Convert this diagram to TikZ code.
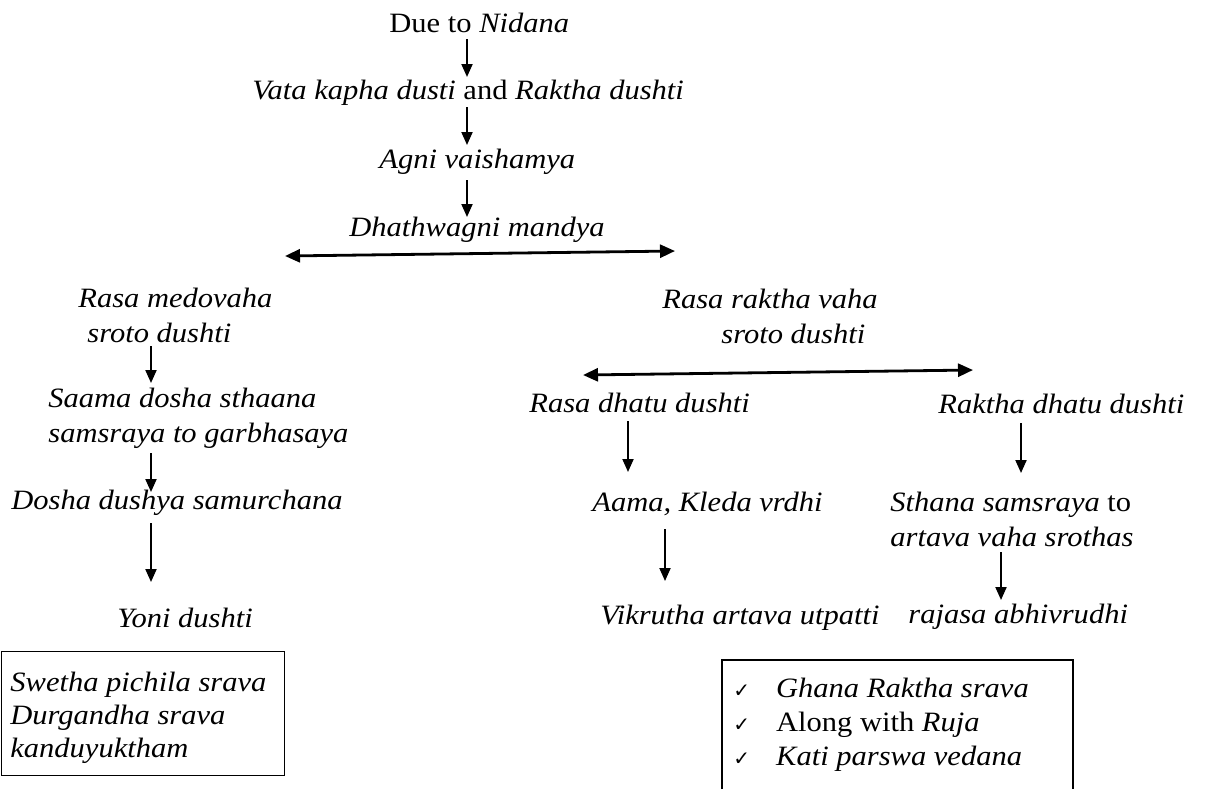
\documentclass[tikz,border=0pt]{standalone}
\usepackage{fontspec}
\setmainfont{Liberation Serif}
\newfontfamily\cam{Liberation Serif}[FakeStretch=1.09]
\newfontfamily\symf{DejaVu Sans}
\usetikzlibrary{arrows.meta}
\tikzset{
  txt/.style={inner sep=0pt, anchor=west, font={\cam\fontsize{14}{17.5}\selectfont}, align=left},
  boxtxt/.style={inner sep=0pt, anchor=west, font={\cam\fontsize{14}{16.5}\selectfont}, align=left},
  arr/.style={line width=1pt, -{Triangle[length=6.5pt,width=5.5pt]}},
  darr/.style={line width=1.4pt, {Triangle[length=7.5pt,width=6.5pt]}-{Triangle[length=7.5pt,width=6.5pt]}},
  boxline/.style={line width=0.7pt}
}
\newcommand{\chk}{{\symf\fontsize{10}{10}\selectfont ✓}\hspace{13pt}}
\begin{document}
\begin{tikzpicture}[x=0.5pt,y=-0.5pt]
\useasboundingbox (0,0) rectangle (1208,789);
% center column
\node[txt] (due) at (389,23) {Due to \textit{Nidana}};
\node[txt] (vata) at (252,93) {\textit{Vata kapha dusti} and \textit{Raktha dushti}};
\node[txt] (agni) at (379,162) {\textit{Agni vaishamya}};
\node[txt] (dhat) at (349,230) {\textit{Dhathwagni mandya}};
\coordinate (a1s) at (467,39);  \coordinate (a1e) at (467,77);
\coordinate (a2s) at (467,107); \coordinate (a2e) at (467,145);
\coordinate (a3s) at (467,180); \coordinate (a3e) at (467,217);
\draw[arr] (a1s) -- (a1e);
\draw[arr] (a2s) -- (a2e);
\draw[arr] (a3s) -- (a3e);
\coordinate (d1l) at (285,256); \coordinate (d1r) at (675,251);
\draw[darr] (d1l) -- (d1r);
% left column
\node[txt] (rmed) at (78,315) {\textit{Rasa medovaha}\\\hspace*{4.5pt}\textit{sroto dushti}};
\node[txt] (saama) at (48,418) {\textit{Saama dosha sthaana}\\\textit{samsraya to garbhasaya}};
\node[txt] (dosha) at (11,503) {\textit{Dosha dushya samurchana}};
\node[txt] (yoni) at (117,618) {\textit{Yoni dushti}};
\coordinate (l1s) at (151,346); \coordinate (l1e) at (151,383);
\coordinate (l2s) at (151,453); \coordinate (l2e) at (151,492);
\coordinate (l3s) at (151,523); \coordinate (l3e) at (151,582);
\draw[arr] (l1s) -- (l1e);
\draw[arr] (l2s) -- (l2e);
\draw[arr] (l3s) -- (l3e);
\node[draw, boxline, inner sep=0pt, anchor=north west, minimum width=141.5pt, minimum height=62pt] (lbox) at (1,651) {};
\node[boxtxt] (ltxt) at (10,718) {\textit{Swetha pichila srava}\\\textit{Durgandha srava}\\\textit{kanduyuktham}};
% right column
\node[txt] (rrak) at (662,316) {\textit{Rasa raktha vaha}\\\hspace*{29.5pt}\textit{sroto dushti}};
\coordinate (d2l) at (583,375); \coordinate (d2r) at (973,370);
\draw[darr] (d2l) -- (d2r);
\node[txt] (rasd) at (529,403) {\textit{Rasa dhatu dushti}};
\node[txt] (rakd) at (938,404) {\textit{Raktha dhatu dushti}};
\coordinate (r1s) at (628,421);  \coordinate (r1e) at (628,472);
\coordinate (r2s) at (1021,423); \coordinate (r2e) at (1021,473);
\draw[arr] (r1s) -- (r1e);
\draw[arr] (r2s) -- (r2e);
\node[txt] (aama) at (592,504) {\textit{Aama, Kleda vrdhi}};
\node[txt] (sthana) at (890,519) {\textit{Sthana samsraya} to\\\textit{artava vaha srothas}};
\coordinate (r3s) at (665,529);  \coordinate (r3e) at (665,581);
\coordinate (r4s) at (1001,552); \coordinate (r4e) at (1001,600);
\draw[arr] (r3s) -- (r3e);
\draw[arr] (r4s) -- (r4e);
\node[txt] (vikr) at (600,618) {\textit{Vikrutha artava utpatti}};
\node[txt] (raja) at (908,617) {\textit{rajasa abhivrudhi}};
% right box (open at the bottom)
\coordinate (rb1) at (722,789); \coordinate (rb2) at (722,660);
\coordinate (rb3) at (1073,660); \coordinate (rb4) at (1073,789);
\draw[boxline] (rb1) -- (rb2) -- (rb3) -- (rb4);
\node[boxtxt, font={\cam\fontsize{14}{17}\selectfont}, anchor=north west] (clist) at (733,678)
  {\chk\textit{Ghana Raktha srava}\\\chk Along with \textit{Ruja}\\\chk\textit{Kati parswa vedana}};
\end{tikzpicture}
\end{document}
